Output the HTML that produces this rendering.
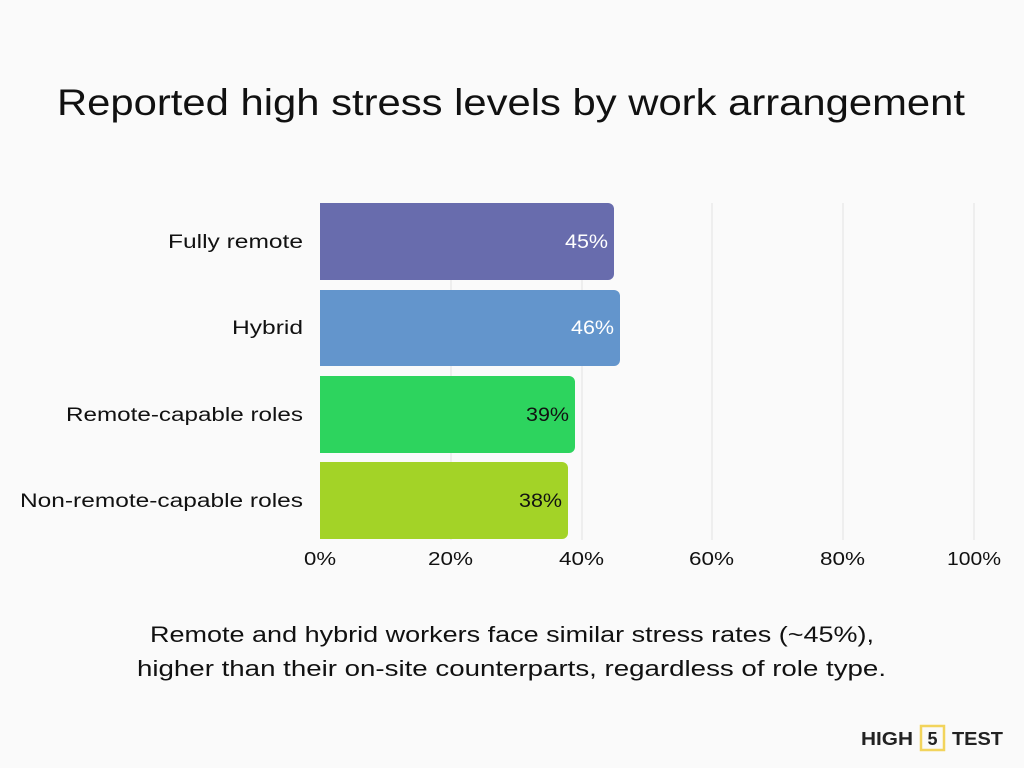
<!DOCTYPE html>
<html><head><meta charset="utf-8"><style>
body{margin:0;background:#fafafa;}
svg{display:block;font-family:"Liberation Sans",sans-serif;}
</style></head><body>
<svg width="1024" height="768" viewBox="0 0 1024 768">
<rect width="1024" height="768" fill="#fafafa"/>
<text x="57" y="115" font-size="37" fill="#111" textLength="908" lengthAdjust="spacingAndGlyphs">Reported high stress levels by work arrangement</text>
<g stroke="#e2e2e2" stroke-width="1">
<line x1="451" y1="203" x2="451" y2="540"/>
<line x1="582" y1="203" x2="582" y2="540"/>
<line x1="712" y1="203" x2="712" y2="540"/>
<line x1="843" y1="203" x2="843" y2="540"/>
<line x1="974" y1="203" x2="974" y2="540"/>
</g>
<path d="M320 203 H608 a6 6 0 0 1 6 6 V274 a6 6 0 0 1 -6 6 H320Z" fill="#686cad"/>
<path d="M320 290 H614 a6 6 0 0 1 6 6 V360 a6 6 0 0 1 -6 6 H320Z" fill="#6395cc"/>
<path d="M320 376 H569 a6 6 0 0 1 6 6 V447 a6 6 0 0 1 -6 6 H320Z" fill="#2dd45e"/>
<path d="M320 462 H562 a6 6 0 0 1 6 6 V533 a6 6 0 0 1 -6 6 H320Z" fill="#a3d327"/>
<g font-size="19">
<text x="565" y="248" fill="#fff" textLength="43" lengthAdjust="spacingAndGlyphs">45%</text>
<text x="571" y="334" fill="#fff" textLength="43" lengthAdjust="spacingAndGlyphs">46%</text>
<text x="526" y="421" fill="#111" textLength="43" lengthAdjust="spacingAndGlyphs">39%</text>
<text x="519" y="507" fill="#111" textLength="43" lengthAdjust="spacingAndGlyphs">38%</text>
</g>
<g font-size="19" fill="#111">
<text x="168" y="248" textLength="135" lengthAdjust="spacingAndGlyphs">Fully remote</text>
<text x="232" y="334" textLength="71" lengthAdjust="spacingAndGlyphs">Hybrid</text>
<text x="66" y="421" textLength="237" lengthAdjust="spacingAndGlyphs">Remote-capable roles</text>
<text x="20" y="507" textLength="283" lengthAdjust="spacingAndGlyphs">Non-remote-capable roles</text>
</g>
<g font-size="18" fill="#111">
<text x="304" y="565" textLength="32" lengthAdjust="spacingAndGlyphs">0%</text>
<text x="428" y="565" textLength="45" lengthAdjust="spacingAndGlyphs">20%</text>
<text x="559" y="565" textLength="45" lengthAdjust="spacingAndGlyphs">40%</text>
<text x="689" y="565" textLength="45" lengthAdjust="spacingAndGlyphs">60%</text>
<text x="820" y="565" textLength="45" lengthAdjust="spacingAndGlyphs">80%</text>
<text x="947" y="565" textLength="54" lengthAdjust="spacingAndGlyphs">100%</text>
</g>
<g font-size="22" fill="#111">
<text x="150" y="642" textLength="724" lengthAdjust="spacingAndGlyphs">Remote and hybrid workers face similar stress rates (~45%),</text>
<text x="137" y="676" textLength="749" lengthAdjust="spacingAndGlyphs">higher than their on-site counterparts, regardless of role type.</text>
</g>
<g font-size="18" font-weight="bold" fill="#222">
<text x="861" y="745" textLength="52" lengthAdjust="spacingAndGlyphs">HIGH</text>
<rect x="921" y="726" width="23" height="24" fill="none" stroke="#f2d45c" stroke-width="2.5"/>
<text x="932.5" y="745" text-anchor="middle">5</text>
<text x="952" y="745" textLength="51" lengthAdjust="spacingAndGlyphs">TEST</text>
</g>
</svg>
</body></html>
